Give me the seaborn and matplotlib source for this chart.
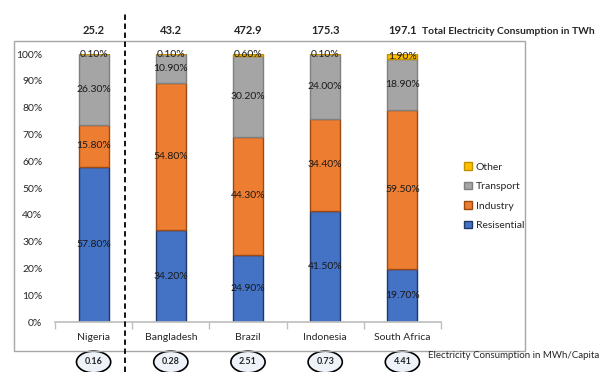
import numpy as np
import pandas as pd
import matplotlib
matplotlib.use("Agg")
import matplotlib.pyplot as plt
from matplotlib.patches import Rectangle, Patch
from matplotlib.lines import Line2D
import seaborn as sns

countries = ["Nigeria", "Bangladesh", "Brazil", "Indonesia", "South Africa"]
residential = [57.8, 34.2, 24.9, 41.5, 19.7]
industry = [15.8, 54.8, 44.3, 34.4, 59.5]
transport = [26.3, 10.9, 30.2, 24.0, 18.9]
other = [0.1, 0.1, 0.6, 0.1, 1.9]
total_twh = ["25.2", "43.2", "472.9", "175.3", "197.1"]
mwh_per_capita = ["0.16", "0.28", "2.51", "0.73", "4.41"]
y_ticks = [0, 10, 20, 30, 40, 50, 60, 70, 80, 90, 100]

sns.set_theme(style="white")
plt.rcParams["font.family"] = ["Lato", "DejaVu Sans"]

W, H = 606, 372
fig = plt.figure(figsize=(W / 100, H / 100), dpi=100)
ax = fig.add_axes([55 / W, 50 / H, 386 / W, 268 / H])

series = [
    ("Resisential", residential, "#4472C4", "#1F3864"),
    ("Industry", industry, "#ED7D31", "#9C4A12"),
    ("Transport", transport, "#A5A5A5", "#7F7F7F"),
    ("Other", other, "#FFC000", "#BF9000"),
]

bottom = np.zeros(len(countries))
for name, vals, fc, ec in series:
    df = pd.DataFrame({"country": countries, "value": vals})
    sns.barplot(data=df, x="country", y="value", bottom=bottom.copy(),
                color=fc, edgecolor=ec, linewidth=1, width=0.39,
                saturation=1, ax=ax, errorbar=None)
    cont = ax.containers[-1]
    ax.bar_label(cont, labels=[f"{v:.2f}%" for v in vals], label_type="center",
                 fontsize=7.5, color="#1a1a1a")
    bottom = bottom + np.array(vals)

ax.set_xlim(-0.5, 4.5)
ax.set_ylim(0, 100)
ax.set_yticks(y_ticks)
ax.set_yticklabels([f"{t}%" for t in y_ticks], fontsize=7.5)
ax.set_xlabel("")
ax.set_ylabel("")
for s in ["left", "top", "right"]:
    ax.spines[s].set_visible(False)
ax.spines["bottom"].set_color("#BFBFBF")
ax.set_xticks(np.arange(-0.5, 5, 1), minor=True)
ax.tick_params(axis="x", which="minor", length=5, color="#BFBFBF", direction="out", bottom=True)
ax.tick_params(axis="x", which="major", length=0, pad=8, labelsize=7.5)
ax.tick_params(axis="y", length=0, pad=9)
ax.grid(False)

# top totals
for i, t in enumerate(total_twh):
    ax.text(i, (322 - 31) / 268, t, transform=ax.get_xaxis_transform(),
            ha="center", va="center", fontsize=8, fontweight="bold", clip_on=False)
fig.text(422 / W, 1 - 31 / H, "Total Electricity Consumption in TWh",
         ha="left", va="center", fontsize=7.4, fontweight="bold")

# bottom ellipses
for i, t in enumerate(mwh_per_capita):
    ax.text(i, (322 - 362) / 268, t, transform=ax.get_xaxis_transform(),
            ha="center", va="center", fontsize=6.5, fontweight="bold", clip_on=False,
            bbox=dict(boxstyle="ellipse,pad=0.35", facecolor="#EEF3FA",
                      edgecolor="black", linewidth=1.2))
fig.text(428 / W, 1 - 356 / H, "Electricity Consumption in MWh/Capita",
         ha="left", va="center", fontsize=7)

# frame and dashed separator
fig.add_artist(Rectangle((14 / W, 1 - 351 / H), (525 - 14) / W, (351 - 41) / H,
                         transform=fig.transFigure, fill=False,
                         edgecolor="#A6A6A6", linewidth=1))
fig.add_artist(Line2D([125 / W, 125 / W], [0, 1 - 12 / H], transform=fig.transFigure,
                      color="black", linestyle=(0, (3, 2)), linewidth=1.3))

# legend
handles = [Patch(facecolor=fc, edgecolor=ec, label=name) for name, _, fc, ec in series][::-1]
ax.legend(handles=handles, loc="upper left", bbox_to_anchor=(455 / W, 1 - 153 / H),
          bbox_transform=fig.transFigure, frameon=False, fontsize=7.5,
          handlelength=0.7, handleheight=0.7, handletextpad=0.4, labelspacing=0.98)

fig.savefig("out.png", dpi=100)
